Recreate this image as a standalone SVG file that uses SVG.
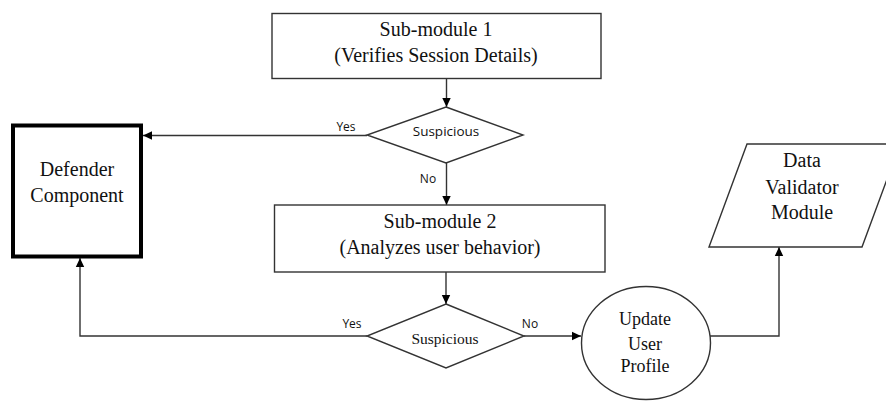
<svg xmlns="http://www.w3.org/2000/svg" width="886" height="401" viewBox="0 0 886 401">
<defs>
<style>
.box{fill:#fff;stroke:#333;stroke-width:1.4}
.thick{fill:#fff;stroke:#000;stroke-width:4}
.ser{font-family:"Liberation Serif","Times New Roman",serif;font-size:20px;fill:#111;text-anchor:middle}
.sm{font-family:"Open Sans","Noto Sans",sans-serif;font-size:13.5px;fill:#111;text-anchor:middle}
.lab{font-family:"Open Sans","Noto Sans",sans-serif;font-size:12px;fill:#111;text-anchor:middle}
.con{fill:none;stroke:#333;stroke-width:1.4}
</style>
<marker id="ah" markerWidth="10" markerHeight="10" refX="9" refY="5" orient="auto" markerUnits="userSpaceOnUse">
<path d="M0,0.8 L9,5 L0,9.2 Z" fill="#000"/>
</marker>
</defs>
<rect width="886" height="401" fill="#fff"/>
<g id="connectors">
<line class="con" x1="446.5" y1="78" x2="446.5" y2="107" marker-end="url(#ah)"/>
<line class="con" x1="367" y1="135.5" x2="143" y2="135.5" marker-end="url(#ah)"/>
<line class="con" x1="446.5" y1="163" x2="446.5" y2="205" marker-end="url(#ah)"/>
<line class="con" x1="446" y1="272" x2="446" y2="304" marker-end="url(#ah)"/>
<polyline class="con" points="367,336 80,336 80,258" marker-end="url(#ah)"/>
<line class="con" x1="524" y1="336" x2="581" y2="336" marker-end="url(#ah)"/>
<polyline class="con" points="710,336 779,336 779,247" marker-end="url(#ah)"/>
<text class="lab" x="346" y="131">Yes</text>
<text class="lab" x="428" y="183">No</text>
<text class="lab" x="352" y="328">Yes</text>
<text class="lab" x="530" y="328">No</text>
</g>
<g id="submodule1">
<rect class="box" x="272" y="13.5" width="329" height="65"/>
<text class="ser" x="436" y="36">Sub-module 1</text>
<text class="ser" x="436" y="62">(Verifies Session Details)</text>
</g>
<g id="decision1">
<polygon class="box" points="446,107 523,135 446,163 367,135"/>
<text class="sm" x="446" y="136">Suspicious</text>
</g>
<g id="defender">
<rect class="thick" x="13" y="125.5" width="128" height="131"/>
<text class="ser" x="77" y="176">Defender</text>
<text class="ser" x="77" y="202">Component</text>
</g>
<g id="submodule2">
<rect class="box" x="274.5" y="205" width="330.5" height="67"/>
<text class="ser" x="440" y="228">Sub-module 2</text>
<text class="ser" x="440" y="254">(Analyzes user behavior)</text>
</g>
<g id="decision2">
<polygon class="box" points="446,304 524,336 446,368 367,336"/>
<text class="ser" x="445" y="344" style="font-size:15.5px">Suspicious</text>
</g>
<g id="update">
<ellipse class="box" cx="646" cy="343" rx="64.5" ry="56.5"/>
<text class="ser" x="645" y="325" style="font-size:18px">Update</text>
<text class="ser" x="645" y="350" style="font-size:18px">User</text>
<text class="ser" x="645" y="372" style="font-size:18px">Profile</text>
</g>
<g id="validator">
<polygon class="box" points="747,144 900,144 862,247 709,247"/>
<text class="ser" x="802" y="167">Data</text>
<text class="ser" x="802" y="194">Validator</text>
<text class="ser" x="802" y="219">Module</text>
</g>
</svg>
